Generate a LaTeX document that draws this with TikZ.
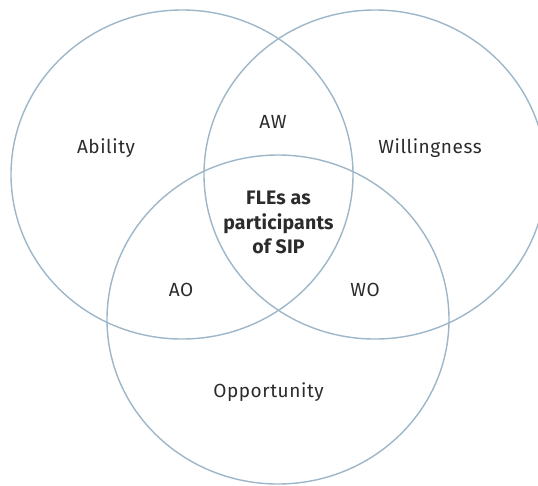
\documentclass[tikz,border=0pt]{standalone}
\usepackage{fontspec}
\setmainfont{Fira Sans}
\usepackage{tikz}
\usetikzlibrary{shapes.geometric}
\definecolor{vennline}{HTML}{9DB6C8}
\definecolor{venntext}{HTML}{2B2B2B}
\tikzset{venn/.style={ellipse,draw=vennline,line width=1.4pt,minimum width=342pt,minimum height=329pt,inner sep=0pt},
lbl/.style={text=venntext,font=\fontsize{19}{22}\selectfont\addfontfeatures{LetterSpace=3}}}

\begin{document}
\begin{tikzpicture}[x=1pt,y=-1pt]
\useasboundingbox (0,0) rectangle (538,485);
%circles
\node[venn] (abil) at (182,174.5) {};
\node[venn] (will) at (375,174.5) {};
\node[venn] (oppo) at (278,319.5) {};
%single sets
\node[lbl] (tabil) at (106,148) {Ability};
\node[lbl] (twill) at (430,148) {Willingness};
\node[lbl] (toppo) at (268.5,392) {Opportunity};
%overlaps
\node[lbl] (taw) at (273,122) {AW};
\node[lbl] (tao) at (181,290) {AO};
\node[lbl] (two) at (365,290) {WO};
%centre
\node[lbl,align=center,font=\fontsize{19.5}{24.5}\selectfont\bfseries\addfontfeatures{LetterSpace=1}] (tall) at (278.5,222.5) {FLEs as\\participants\\of SIP};
\end{tikzpicture}
\end{document}
